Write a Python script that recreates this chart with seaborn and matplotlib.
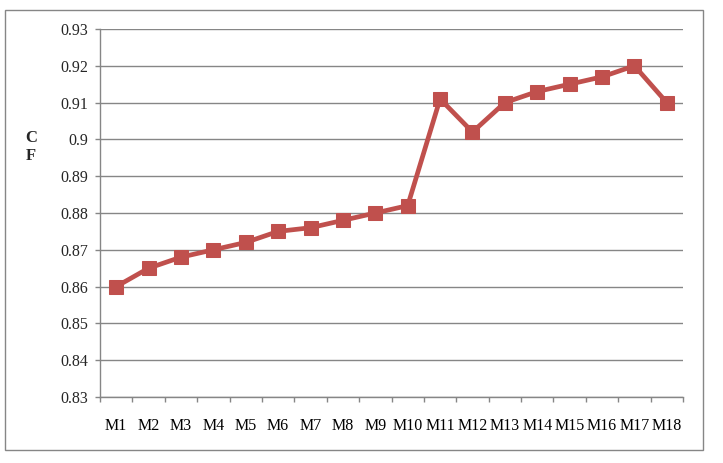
import matplotlib
matplotlib.use("Agg")
import matplotlib.pyplot as plt
import seaborn as sns
import pandas as pd
from matplotlib.patches import Rectangle
from matplotlib.ticker import FixedLocator, NullFormatter, FixedFormatter

categories = ["M1", "M2", "M3", "M4", "M5", "M6", "M7", "M8", "M9", "M10",
              "M11", "M12", "M13", "M14", "M15", "M16", "M17", "M18"]
cf_values = [0.860, 0.865, 0.868, 0.870, 0.872, 0.875, 0.876, 0.878, 0.880, 0.882,
             0.911, 0.902, 0.910, 0.913, 0.915, 0.917, 0.920, 0.910]
y_ticks = [0.83, 0.84, 0.85, 0.86, 0.87, 0.88, 0.89, 0.90, 0.91, 0.92, 0.93]
y_tick_labels = ["0.83", "0.84", "0.85", "0.86", "0.87", "0.88", "0.89", "0.9", "0.91", "0.92", "0.93"]

sns.set_style("white")
plt.rcParams['font.family'] = ['Liberation Serif', 'DejaVu Serif']

W, H = 723, 463
fig = plt.figure(figsize=(W / 100, H / 100), dpi=100)
# plot area in pixels: left 100, right 683, top 29, bottom 397
ax = fig.add_axes([100 / W, 1 - 397 / H, (683 - 100) / W, (397 - 29) / H])

df = pd.DataFrame({"model": categories, "cf": cf_values})
df["pos"] = range(len(categories))
red = "#C0504D"
sns.lineplot(data=df, x="pos", y="cf", ax=ax, color=red, linewidth=3.4,
             marker="s", markersize=10, markeredgecolor=red, markerfacecolor=red,
             sort=False, zorder=3)

n = len(categories)
ax.set_xlim(-0.5, n - 0.5)
ax.set_ylim(0.83, 0.93)

gray = "#868686"
ax.set_yticks(y_ticks)
ax.set_yticklabels(y_tick_labels)
ax.yaxis.grid(True, color=gray, linewidth=1)
ax.xaxis.grid(False)

ax.xaxis.set_major_locator(FixedLocator([i - 0.5 for i in range(n + 1)]))
ax.xaxis.set_major_formatter(NullFormatter())
ax.xaxis.set_minor_locator(FixedLocator(list(range(n))))
ax.xaxis.set_minor_formatter(FixedFormatter(categories))
ax.tick_params(axis="x", which="major", length=3.6, width=1, color=gray, direction="out", bottom=True)
ax.tick_params(axis="x", which="minor", length=0, pad=15, labelsize=11.5, labelcolor="black", bottom=True)
ax.tick_params(axis="y", which="major", length=3.6, width=1, color=gray, direction="out",
               pad=5, labelsize=11.5, left=True)

for side in ["top", "right"]:
    ax.spines[side].set_visible(False)
for side in ["left", "bottom"]:
    ax.spines[side].set_color(gray)
    ax.spines[side].set_linewidth(1)

ax.set_xlabel("")
ax.set_ylabel("")
fig.text(31 / W, 1 - 147 / H, "C\nF", ha="center", va="center", fontsize=12,
         fontweight="bold", linespacing=1.15)

fig.patches.append(Rectangle((5 / W, 1 - 450 / H), (703 - 5) / W, (450 - 10) / H,
                             transform=fig.transFigure, fill=False,
                             edgecolor=gray, linewidth=1))

fig.savefig("out.png", dpi=100)
